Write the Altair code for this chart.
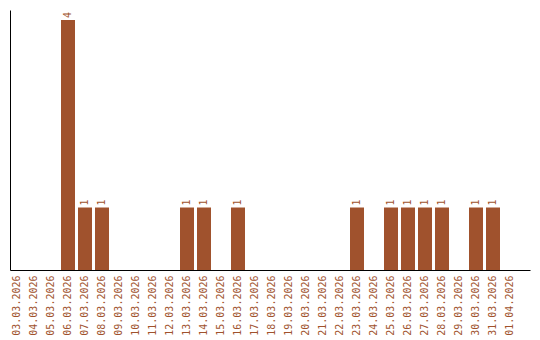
import altair as alt
import pandas as pd

dates = ["03.03.2026", "04.03.2026", "05.03.2026", "06.03.2026", "07.03.2026",
         "08.03.2026", "09.03.2026", "10.03.2026", "11.03.2026", "12.03.2026",
         "13.03.2026", "14.03.2026", "15.03.2026", "16.03.2026", "17.03.2026",
         "18.03.2026", "19.03.2026", "20.03.2026", "21.03.2026", "22.03.2026",
         "23.03.2026", "24.03.2026", "25.03.2026", "26.03.2026", "27.03.2026",
         "28.03.2026", "29.03.2026", "30.03.2026", "31.03.2026", "01.04.2026"]
counts = [0, 0, 0, 4, 1, 1, 0, 0, 0, 0,
          1, 1, 0, 1, 0, 0, 0, 0, 0, 0,
          1, 0, 1, 1, 1, 1, 0, 1, 1, 0]

df = pd.DataFrame({"date": dates, "count": counts})
df["label"] = df["count"].apply(lambda v: str(v) if v > 0 else "")

brown = "#A0522D"
font = "DejaVu Sans Mono"

x = alt.X("date:N", sort=dates, title=None,
          scale=alt.Scale(paddingInner=3/17, paddingOuter=0.382, align=0),
          axis=alt.Axis(labelAngle=270, labelAlign="right", labelBaseline="middle",
                        labelColor=brown, labelFont=font, labelFontSize=10,
                        labelPadding=5, ticks=False, domainColor="black",
                        labelOverlap=False))
y = alt.Y("count:Q", title=None, scale=alt.Scale(domain=[0, 4.16], nice=False),
          axis=alt.Axis(labels=False, ticks=False, grid=False, domainColor="black"))

bars = alt.Chart(df).mark_bar(color=brown).encode(x=x, y=y)
text = alt.Chart(df).mark_text(angle=270, align="left", baseline="middle", dx=2,
                               color=brown, font=font, fontSize=10).encode(
    x=alt.X("date:N", sort=dates), y="count:Q", text="label:N")

chart = (bars + text).properties(
    width=520, height=260,
    autosize=alt.AutoSizeParams(type="none"),
    padding={"left": 10, "top": 10, "right": 10, "bottom": 70},
).configure(background="white").configure_view(stroke=None, strokeWidth=0)

chart.save("out.html", embed_options={"renderer": "svg", "actions": False})
